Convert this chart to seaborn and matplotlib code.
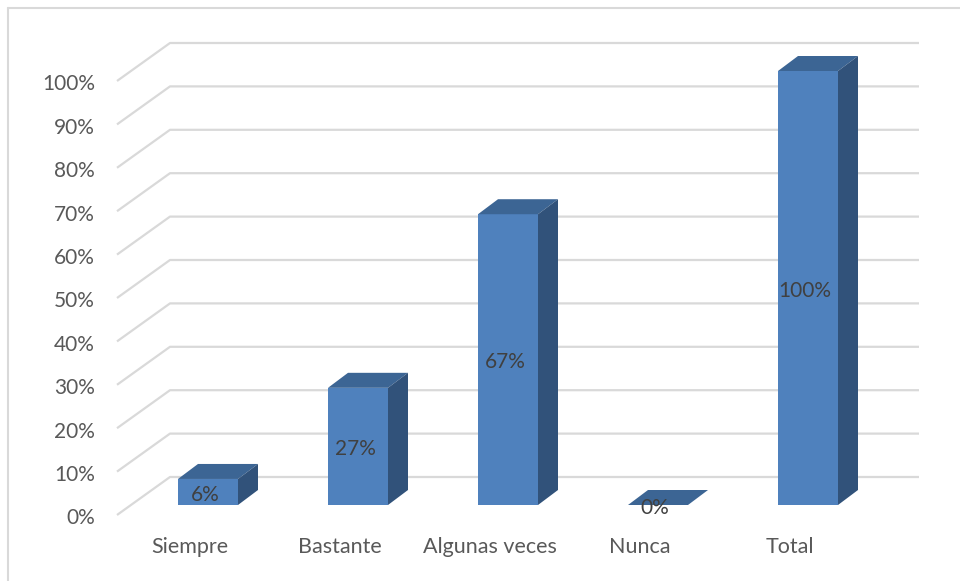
import matplotlib
matplotlib.use("Agg")
import matplotlib.pyplot as plt
from matplotlib.patches import Polygon
from matplotlib.lines import Line2D
import pandas as pd
import seaborn as sns

categories = ["Siempre", "Bastante", "Algunas veces", "Nunca", "Total"]
values = [6, 27, 67, 0, 100]
value_labels = ["6%", "27%", "67%", "0%", "100%"]
tick_values = list(range(0, 101, 10))
tick_labels = [f"{t}%" for t in tick_values]

df = pd.DataFrame({"categoria": categories, "valor": values})

sns.set_theme(style="white")
plt.rcParams["font.family"] = ["Lato", "DejaVu Sans"]

W, H = 960, 581
fig = plt.figure(figsize=(W / 100, H / 100), dpi=100)
ax = fig.add_axes([0, 0, 1, 1])

# pixel scale of the fake 3d box
sx = 150.0   # px per category
sy = 4.34    # px per percent
bx, by = 208, 505  # pixel of first bar's front base centre

front_c = "#4F81BD"
top_c = "#3C6594"
side_c = "#31527A"
grid_c = "#D9D9D9"

sns.barplot(data=df, x="categoria", y="valor", color=front_c, saturation=1,
            width=60 / sx, linewidth=0, ax=ax, zorder=3)

ax.set_xlim(-bx / sx, (W - bx) / sx)
ax.set_ylim(-(H - by) / sy, by / sy)
ax.axis("off")

# depth offsets (data units)
ddx, ddy = 20 / sx, 15 / sy
fx, fy = (117 - bx) / sx, -10 / sy   # front wall offset
kx, ky = (170 - bx) / sx, 28 / sy    # back wall offset
rx = (919 - bx) / sx

for t in tick_values:
    ax.plot([fx, kx, rx], [t + fy, t + ky, t + ky], color=grid_c, lw=1.6,
            zorder=1, solid_capstyle="butt")

for p in ax.patches:
    x0 = p.get_x()
    x1 = x0 + p.get_width()
    h = p.get_height()
    ax.add_patch(Polygon([(x0, h), (x1, h), (x1 + ddx, h + ddy), (x0 + ddx, h + ddy)],
                         closed=True, facecolor=top_c, edgecolor="none", zorder=3))
    if h > 0:
        ax.add_patch(Polygon([(x1, 0), (x1 + ddx, ddy), (x1 + ddx, h + ddy), (x1, h)],
                             closed=True, facecolor=side_c, edgecolor="none", zorder=3))

for i, (v, lab) in enumerate(zip(values, value_labels)):
    ax.text(i - 3 / sx, v / 2 - 0.6, lab, ha="center", va="center",
            fontsize=15, color="#404040", zorder=5)

for t, lab in zip(tick_values, tick_labels):
    ax.text((95 - bx) / sx, t + fy - 0.8, lab, ha="right", va="center",
            fontsize=15, color="#595959")

for i, cat in enumerate(categories):
    ax.text(i - 18 / sx, -42 / sy, cat, ha="center", va="center",
            fontsize=15.5, color="#595959")

fig.add_artist(Line2D([8 / W, 8 / W], [0, 1 - 8 / H], color=grid_c, lw=1.5))
fig.add_artist(Line2D([8 / W, 1], [1 - 8 / H, 1 - 8 / H], color=grid_c, lw=1.5))

fig.savefig("out.png", dpi=100)
